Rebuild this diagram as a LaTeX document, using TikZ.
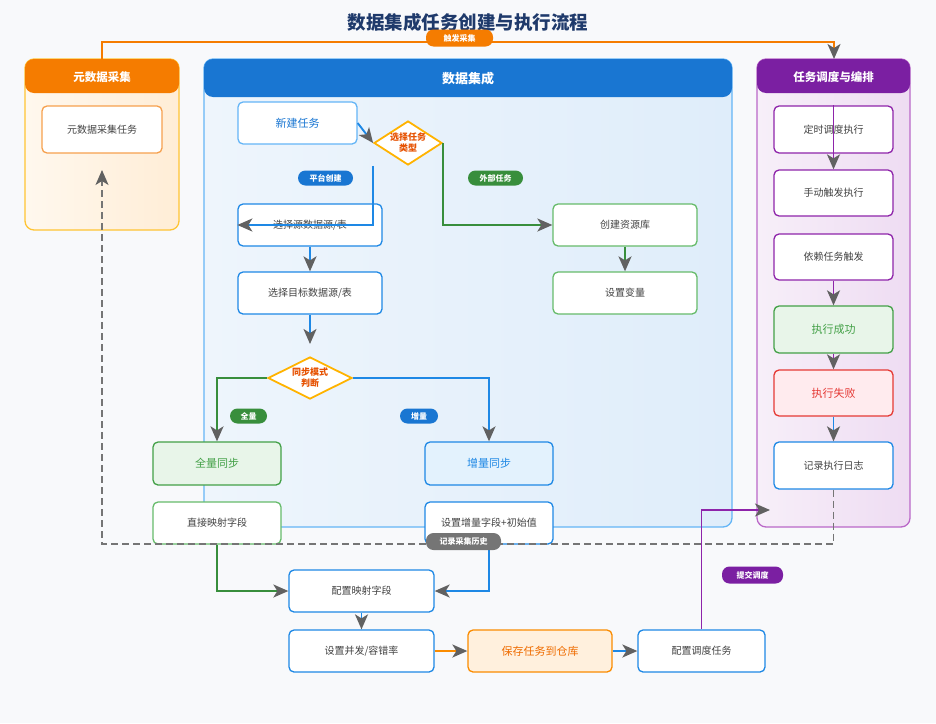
\documentclass[tikz,border=0pt]{standalone}
\usepackage{fontspec}
\newfontfamily\cjk{Noto Sans CJK SC}
\usetikzlibrary{arrows.meta,shapes.geometric}
\definecolor{PageBg}{HTML}{F8F9FB}
\definecolor{TitleNavy}{HTML}{1F3A6B}
\definecolor{TextGray}{HTML}{424242}
\definecolor{ArrowGray}{HTML}{616161}
\definecolor{DashGray}{HTML}{757575}
\definecolor{OrangeHead}{HTML}{F57C00}
\definecolor{OrangeLine}{HTML}{FB8C00}
\definecolor{OrangeText}{HTML}{EF6C00}
\definecolor{OrangeFill}{HTML}{FFF0DD}
\definecolor{OrangeSoft}{HTML}{F6A04D}
\definecolor{AmberEdge}{HTML}{FFC433}
\definecolor{CreamLeft}{HTML}{FFF8EE}
\definecolor{CreamRight}{HTML}{FFEDD6}
\definecolor{BlueHead}{HTML}{1976D2}
\definecolor{BlueLine}{HTML}{1E88E5}
\definecolor{BlueSoft}{HTML}{64B5F6}
\definecolor{BlueFill}{HTML}{E3F2FD}
\definecolor{SkyLeft}{HTML}{EEF5FC}
\definecolor{SkyRight}{HTML}{DFEDFA}
\definecolor{GreenLine}{HTML}{388E3C}
\definecolor{GreenEdge}{HTML}{43A047}
\definecolor{GreenSoft}{HTML}{66BB6A}
\definecolor{GreenFill}{HTML}{E8F5E9}
\definecolor{PurpleHead}{HTML}{7B1FA2}
\definecolor{PurpleLine}{HTML}{8E24AA}
\definecolor{PurpleSoft}{HTML}{BA68C8}
\definecolor{LilacLeft}{HTML}{F7EFF9}
\definecolor{LilacRight}{HTML}{EEDCF2}
\definecolor{RedEdge}{HTML}{E53935}
\definecolor{RedFill}{HTML}{FFEBEE}
\definecolor{DiamondAmber}{HTML}{FFB300}
\definecolor{DiamondText}{HTML}{E65100}

\begin{document}
\begin{tikzpicture}[
  x=1pt, y=-1pt,
  font=\cjk,
  arr/.style={-{Stealth[length=15pt, width=13pt, inset=4pt, color=ArrowGray]}},
  flow/.style={line width=1.9pt, arr},
  box/.style={draw, fill=white, rounded corners=5pt, line width=1.3pt,
    minimum width=144pt, minimum height=42pt, inner sep=2pt, text=TextGray,
    font=\cjk\fontsize{10}{12}\selectfont},
  hibox/.style={box, font=\cjk\fontsize{11}{13}\selectfont},
  choice/.style={diamond, draw=DiamondAmber, fill=white, line width=1.8pt,
    inner sep=0pt, align=center, text=DiamondText,
    font=\cjk\bfseries\fontsize{9}{11}\selectfont},
  pill/.style={rounded corners=7.5pt, minimum height=15pt, inner sep=2pt,
    text=white, font=\cjk\bfseries\fontsize{8}{9}\selectfont},
  panel/.style={draw, rounded corners=9pt, line width=1.3pt},
  panelhead/.style={rounded corners=9pt, inner sep=0pt, text=white,
    text height=1.1em, text depth=0pt,
    font=\cjk\bfseries\fontsize{11.5}{14}\selectfont}
]

% === Page background ===
\fill[PageBg] (0,0) rectangle (936,723);
\useasboundingbox (0,0) rectangle (936,723);

\node[text=TitleNavy, font=\cjk\bfseries\fontsize{18.5}{22}\selectfont]
  (title) at (468,22) {数据集成任务创建与执行流程};

% === Swimlane panels ===
\node[panel, draw=AmberEdge, left color=CreamLeft, right color=CreamRight,
  minimum width=154pt, minimum height=171pt] (metaPanel) at (102,144.5) {};
\node[panelhead, fill=OrangeHead, minimum width=154pt, minimum height=34pt]
  (metaHead) at (102,76) {元数据采集};

\node[panel, draw=BlueSoft, left color=SkyLeft, right color=SkyRight,
  minimum width=528pt, minimum height=468pt] (dataPanel) at (468,293) {};
\node[panelhead, fill=BlueHead, minimum width=528pt, minimum height=38pt,
  font=\cjk\bfseries\fontsize{13}{15}\selectfont]
  (dataHead) at (468,78) {数据集成};

\node[panel, draw=PurpleSoft, left color=LilacLeft, right color=LilacRight,
  minimum width=153pt, minimum height=468pt] (schedPanel) at (833.5,293) {};
\node[panelhead, fill=PurpleHead, minimum width=153pt, minimum height=34pt]
  (schedHead) at (833.5,76) {任务调度与编排};

% === Metadata lane ===
\node[box, draw=OrangeSoft, minimum width=120pt, minimum height=47pt]
  (metaTask) at (102,129.5) {元数据采集任务};

% === Integration lane ===
\node[hibox, draw=BlueSoft, text=BlueHead, minimum width=119pt]
  (newTask) at (297.5,123) {新建任务};
\node[choice, aspect=1.5, minimum width=68pt, minimum height=44pt]
  (taskType) at (408,143) {选择任务\\类型};

\node[box, draw=BlueLine] (srcSel) at (310,225) {选择源数据源/表};
\node[box, draw=BlueLine] (tgtSel) at (310,293) {选择目标数据源/表};
\node[box, draw=GreenSoft] (resCreate) at (625,225) {创建资源库};
\node[box, draw=GreenSoft] (varSet) at (625,293) {设置变量};

\node[choice, aspect=2, minimum width=84pt, minimum height=42pt]
  (syncMode) at (310,378) {同步模式\\判断};
\coordinate (syncIn) at (310,344);

\node[hibox, draw=GreenEdge, fill=GreenFill, text=GreenEdge,
  minimum width=128pt, minimum height=43pt] (fullSync) at (217,463.5) {全量同步};
\node[hibox, draw=BlueLine, fill=BlueFill, text=BlueLine,
  minimum width=128pt, minimum height=43pt] (incSync) at (489,463.5) {增量同步};
\node[box, draw=GreenSoft, minimum width=128pt] (directMap) at (217,523) {直接映射字段};
\node[box, draw=BlueLine, minimum width=128pt] (incField) at (489,523) {设置增量字段+初始值};

% === Bottom chain ===
\node[box, draw=BlueLine, minimum width=145pt] (cfgMap) at (361.5,591) {配置映射字段};
\node[box, draw=BlueLine, minimum width=145pt] (setConc) at (361.5,651) {设置并发/容错率};
\node[hibox, draw=OrangeLine, fill=OrangeFill, text=OrangeText]
  (saveTask) at (540,651) {保存任务到仓库};
\node[box, draw=BlueLine, minimum width=127pt] (cfgSched) at (701.5,651) {配置调度任务};

% === Scheduling lane ===
\node[box, draw=PurpleLine, minimum width=119pt, minimum height=47pt]
  (timed) at (833.5,129.5) {定时调度执行};
\node[box, draw=PurpleLine, minimum width=119pt, minimum height=46pt]
  (manual) at (833.5,193) {手动触发执行};
\node[box, draw=PurpleLine, minimum width=119pt, minimum height=46pt]
  (depend) at (833.5,257) {依赖任务触发};
\node[hibox, draw=GreenEdge, fill=GreenFill, text=GreenEdge,
  minimum width=119pt, minimum height=47pt] (success) at (833.5,329.5) {执行成功};
\node[hibox, draw=RedEdge, fill=RedFill, text=RedEdge,
  minimum width=119pt, minimum height=46pt] (fail) at (833.5,393) {执行失败};
\node[box, draw=BlueLine, minimum width=119pt, minimum height=47pt]
  (logRec) at (833.5,465.5) {记录执行日志};

% === Connectors ===
\coordinate (metaTop) at (102,59);
\coordinate (schedTop) at (834,59);
\coordinate (topBend) at (468,42);
\draw[flow, OrangeHead] (metaTop) |- (topBend) -| (schedTop);

\draw[flow, BlueLine] (newTask.east) -- (taskType.west);
\draw[flow, BlueLine] (taskType.west |- taskType.south) |- (srcSel.west);
\draw[flow, GreenLine] (taskType.east) |- (resCreate.west);
\draw[flow, BlueLine] (srcSel) -- (tgtSel);
\draw[flow, BlueLine] (tgtSel) -- (syncIn);
\draw[flow, GreenLine] (resCreate) -- (varSet);

\draw[flow, GreenLine] (syncMode.west) -| (fullSync.north);
\draw[flow, BlueLine] (syncMode.east) -| (incSync.north);

\coordinate (dashTurn) at (102,544);
\coordinate (metaIn) at (102,170);
\draw[line width=1.4pt, DashGray, dash pattern=on 7pt off 4pt, arr]
  (logRec.south) |- (dashTurn) -- (metaIn);

\draw[flow, GreenLine] (directMap.south) |- (cfgMap.west);
\draw[flow, BlueLine] (incField.south) |- (cfgMap.east);
\draw[flow, BlueLine] (cfgMap) -- (setConc);
\draw[flow, OrangeLine] (setConc) -- (saveTask);
\draw[flow, BlueLine] (saveTask) -- (cfgSched);

\coordinate (schedIn) at (770,510);
\draw[flow, PurpleLine] (cfgSched.north) |- (schedIn);

\draw[flow, PurpleLine] (timed.north) -- (manual.north);
\draw[flow, PurpleLine] (depend) -- (success);
\draw[flow, PurpleLine] (success) -- (fail);
\draw[flow, BlueLine] (fail) -- (logRec);

% === Edge labels ===
\node[pill, fill=OrangeHead, minimum width=67pt, minimum height=17pt] (lblTrigger) at (459.5,38) {触发采集};
\node[pill, fill=BlueHead, minimum width=55pt] (lblPlatform) at (325.5,178) {平台创建};
\node[pill, fill=GreenLine, minimum width=55pt] (lblExternal) at (495.5,178) {外部任务};
\node[pill, fill=GreenLine, minimum width=37pt] (lblFull) at (248.5,416) {全量};
\node[pill, fill=BlueHead, minimum width=38pt] (lblInc) at (419,416) {增量};
\node[pill, fill=DashGray, minimum width=75pt, minimum height=17pt] (lblHistory) at (463.5,541.5) {记录采集历史};
\node[pill, fill=PurpleHead, minimum width=61pt, minimum height=17pt] (lblSubmit) at (752.5,575) {提交调度};

\end{tikzpicture}
\end{document}
